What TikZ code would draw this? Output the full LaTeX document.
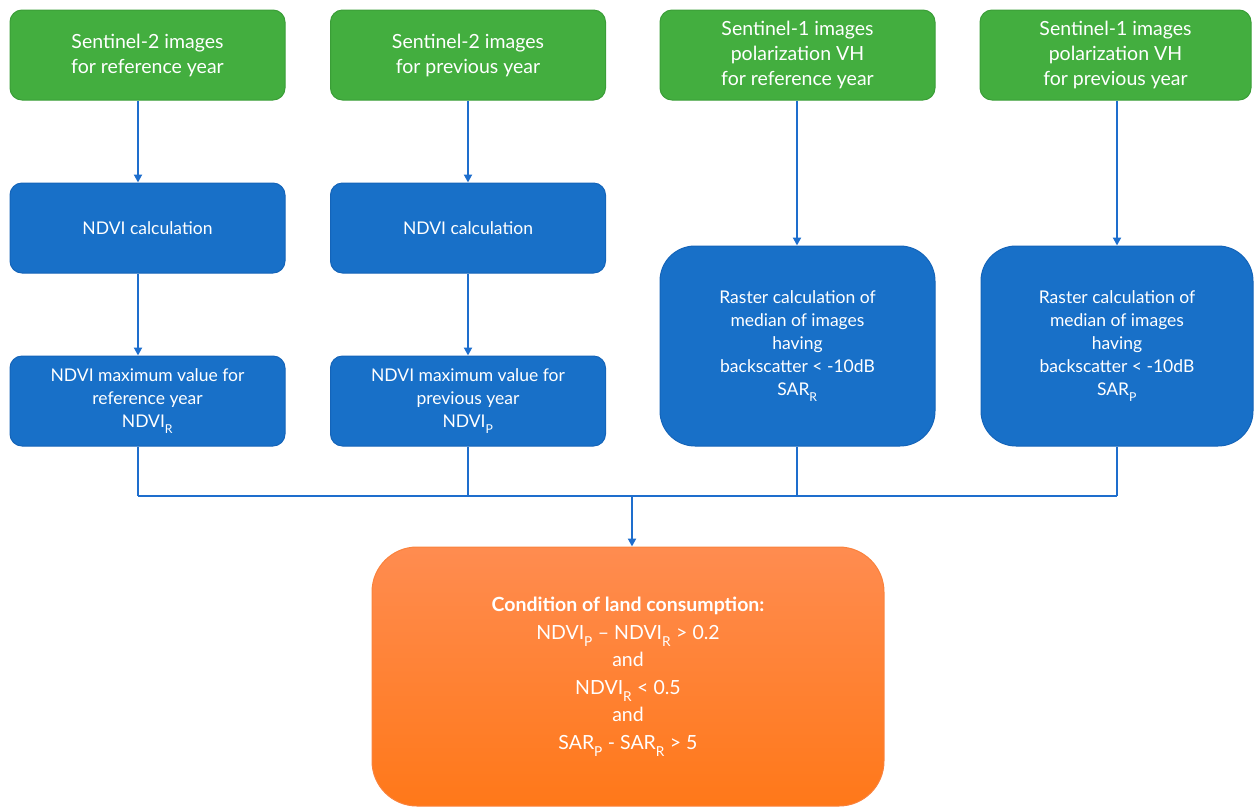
\documentclass[tikz,border=0pt]{standalone}
\usepackage{fontspec}
\setmainfont{Lato}
\usetikzlibrary{arrows.meta}
\definecolor{gfill}{RGB}{67,174,63}
\definecolor{gdraw}{RGB}{58,158,55}
\definecolor{bfill}{RGB}{24,112,200}
\definecolor{bdraw}{RGB}{20,100,185}
\definecolor{otop}{RGB}{255,140,80}
\definecolor{obot}{RGB}{255,120,25}
\definecolor{ofr}{RGB}{250,130,60}
\definecolor{lineblue}{RGB}{30,110,205}
\newcommand\subx[1]{\raisebox{-0.2em}{\textsubscript{#1}}}
\begin{document}
\begin{tikzpicture}[x=1pt,y=-1pt,
  gbox/.style={draw=gdraw,line width=1pt,fill=gfill,rounded corners=12pt,minimum width=275pt,minimum height=90pt,inner sep=0pt,align=center,text=white,font=\fontsize{19.5}{25}\selectfont},
  bbox/.style={draw=bdraw,line width=1pt,fill=bfill,rounded corners=12pt,minimum width=275pt,minimum height=90pt,inner sep=0pt,align=center,text=white,font=\fontsize{17.5}{23}\selectfont},
  rbox/.style={bbox,rounded corners=35pt,minimum height=200pt},
  obox/.style={draw=ofr,line width=1pt,top color=otop,bottom color=obot,rounded corners=45pt,minimum width=512pt,minimum height=259pt,inner sep=0pt,align=center,text=white,font=\fontsize{19.5}{27.5}\selectfont},
  conn/.style={draw=lineblue,line width=2pt},
  arr/.style={conn,-{Triangle[length=8pt,width=8pt]}}]
\useasboundingbox (0,0) rectangle (1254,807);
% green
\node[gbox] (g1) at (147.5,55) {Sentinel-2 images\\for reference year};
\node[gbox] (g2) at (468,55) {Sentinel-2 images\\for previous year};
\node[gbox] (g3) at (797.5,55) {Sentinel-1 images\\polarization VH\\for reference year};
\node[gbox,minimum width=271pt] (g4) at (1115.5,55) {Sentinel-1 images\\polarization VH\\for previous year};
% blue
\node[bbox] (c1) at (147.5,228) {NDVI calculation};
\node[bbox] (c2) at (468,228) {NDVI calculation};
\node[bbox] (m1) at (147.5,401) {NDVI maximum value for\\reference year\\NDVI\subx{R}};
\node[bbox] (m2) at (468,401) {NDVI maximum value for\\previous year\\NDVI\subx{P}};
\node[rbox] (r1) at (797.5,346) {Raster calculation of\\median of images\\having\\backscatter < -10dB\\SAR\subx{R}};
\node[rbox,minimum width=272pt] (r2) at (1117,346) {Raster calculation of\\median of images\\having\\backscatter < -10dB\\SAR\subx{P}};
% orange
\node[obox] (o) at (628,676.5) {\textbf{Condition of land consumption:}\\NDVI\subx{P} – NDVI\subx{R} > 0.2\\and\\NDVI\subx{R} < 0.5\\and\\SAR\subx{P} - SAR\subx{R} > 5};
% coordinates
\coordinate (b1) at (138,496);
\coordinate (b2) at (468,496);
\coordinate (b3) at (797,496);
\coordinate (b4) at (1117,496);
\coordinate (bc) at (632,496);
% arrows
\draw[arr] (g1.south -| b1) -- (c1.north -| b1);
\draw[arr] (c1.south -| b1) -- (m1.north -| b1);
\draw[arr] (g2.south -| b2) -- (c2.north -| b2);
\draw[arr] (c2.south -| b2) -- (m2.north -| b2);
\draw[arr] (g3.south -| b3) -- (r1.north -| b3);
\draw[arr] (g4.south -| b4) -- (r2.north -| b4);
\draw[conn] (m1.south -| b1) -- (b1);
\draw[conn] (m2.south -| b2) -- (b2);
\draw[conn] (r1.south -| b3) -- (b3);
\draw[conn] (r2.south -| b4) -- (b4);
\draw[conn] (b1) -- (b4);
\draw[arr] (bc) -- (o.north -| bc);
\end{tikzpicture}
\end{document}
